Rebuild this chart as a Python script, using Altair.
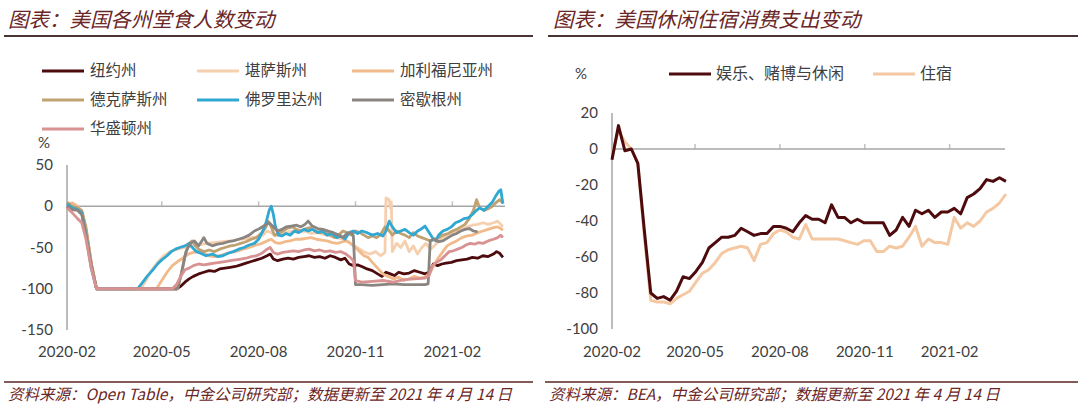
import altair as alt
import pandas as pd

START = "2020-02-01"

# ---------------- Left panel: seated diners by state (day offset from 2020-02-01, % change)
left_names = ["纽约州", "堪萨斯州", "加利福尼亚州", "德克萨斯州", "佛罗里达州", "密歇根州", "华盛顿州"]
left_colors = ["#4E0B0E", "#F6CFAE", "#F2B98A", "#BFA172", "#2FA8D2", "#8A8580", "#D99292"]

new_york = [(0,0),(5,-2),(10,-3),(14,-8),(18,-30),(23,-70),(28,-100),(104,-100),(108,-97),(112,-92),(116,-88),(120,-85),(125,-82),(130,-80),(135,-78),(140,-79),(145,-76),(150,-75),(155,-74),(160,-73),(165,-71),(170,-69),(175,-67),(180,-65),(185,-63),(190,-60),(193,-58),(196,-64),(200,-66),(205,-64),(210,-63),(215,-64),(220,-62),(225,-61),(230,-60),(235,-62),(240,-61),(245,-63),(250,-60),(255,-62),(260,-65),(264,-63),(268,-70),(272,-72),(276,-71),(280,-73),(285,-76),(290,-78),(295,-82),(299,-85),(303,-80),(307,-82),(311,-84),(315,-80),(320,-82),(325,-81),(330,-78),(335,-80),(340,-82),(344,-80),(348,-70),(352,-72),(356,-70),(360,-69),(365,-68),(370,-66),(375,-65),(380,-64),(385,-62),(390,-63),(395,-60),(400,-61),(405,-58),(408,-55),(411,-57),(414,-62)]
kansas = [(0,3),(5,2),(10,-2),(14,-6),(18,-28),(23,-68),(28,-100),(70,-100),(75,-90),(80,-78),(86,-68),(92,-60),(98,-55),(105,-52),(112,-50),(118,-48),(125,-47),(132,-45),(140,-44),(148,-43),(156,-42),(164,-40),(172,-39),(180,-37),(186,-35),(190,-30),(194,-32),(198,-36),(203,-34),(208,-32),(214,-30),(220,-31),(226,-30),(232,-33),(238,-32),(244,-34),(250,-36),(256,-38),(262,-40),(268,-44),(273,-48),(278,-52),(283,-56),(288,-58),(293,-55),(298,-60),(302,-56),(303,10),(306,8),(307,-2),(308,5),(309,-55),(313,-45),(317,-50),(321,-42),(325,-55),(329,-48),(333,-58),(337,-50),(341,-45),(345,-52),(349,-48),(353,-42),(357,-38),(361,-35),(365,-32),(370,-30),(375,-28),(380,-25),(385,-23),(390,-22),(395,-20),(400,-22),(405,-20),(409,-18),(412,-22),(414,-25)]
california = [(0,2),(5,4),(10,0),(14,-6),(18,-30),(23,-70),(28,-100),(85,-100),(90,-90),(95,-80),(100,-72),(105,-67),(110,-63),(115,-58),(120,-56),(125,-55),(130,-57),(135,-60),(140,-61),(145,-60),(150,-58),(155,-56),(160,-55),(165,-53),(170,-51),(175,-49),(180,-47),(185,-45),(190,-42),(194,-40),(198,-44),(202,-45),(207,-43),(212,-42),(217,-40),(222,-40),(227,-39),(232,-38),(237,-40),(242,-41),(247,-42),(252,-44),(257,-45),(262,-43),(266,-42),(270,-46),(274,-50),(278,-55),(282,-60),(286,-62),(290,-68),(295,-75),(300,-82),(305,-85),(310,-88),(315,-86),(320,-90),(325,-88),(330,-85),(335,-87),(340,-86),(345,-80),(349,-70),(353,-62),(357,-55),(361,-48),(365,-45),(370,-42),(375,-38),(380,-36),(385,-35),(390,-32),(395,-30),(400,-28),(405,-26),(409,-25),(412,-27),(414,-29)]
texas = [(0,5),(5,0),(10,-2),(14,-5),(18,-25),(23,-68),(28,-100),(105,-100),(108,-85),(112,-60),(116,-45),(119,-42),(122,-48),(125,-52),(130,-55),(135,-53),(140,-55),(145,-52),(150,-50),(155,-48),(160,-47),(165,-45),(170,-43),(175,-40),(180,-38),(185,-32),(189,-25),(191,-18),(194,-25),(197,-35),(201,-33),(205,-30),(209,-27),(214,-25),(218,-28),(222,-30),(227,-27),(231,-26),(236,-30),(241,-32),(246,-30),(250,-35),(254,-38),(258,-35),(262,-30),(266,-32),(270,-35),(274,-30),(278,-32),(282,-35),(286,-38),(290,-36),(294,-38),(298,-34),(302,-25),(305,-28),(309,-35),(313,-30),(317,-33),(321,-35),(325,-38),(329,-32),(333,-36),(337,-38),(341,-40),(345,-42),(349,-40),(353,-38),(357,-35),(362,-33),(366,-30),(370,-28),(374,-25),(378,-22),(382,-15),(386,-5),(389,8),(392,-2),(396,-5),(400,-3),(404,0),(408,5),(411,8),(414,4)]
florida = [(0,3),(5,-2),(10,-4),(14,-8),(18,-35),(23,-75),(28,-100),(67,-100),(72,-92),(76,-85),(81,-78),(86,-70),(90,-65),(95,-60),(99,-55),(103,-52),(107,-50),(112,-48),(116,-45),(119,-50),(123,-55),(127,-57),(132,-60),(138,-58),(143,-61),(148,-60),(153,-57),(158,-55),(163,-52),(168,-50),(173,-47),(178,-45),(182,-40),(186,-30),(189,-20),(192,-5),(194,0),(196,-10),(198,-25),(201,-35),(204,-36),(208,-33),(212,-35),(216,-30),(220,-32),(225,-28),(229,-30),(233,-28),(238,-32),(242,-30),(247,-35),(252,-33),(256,-38),(260,-36),(264,-40),(268,-32),(272,-30),(276,-33),(280,-30),(285,-32),(290,-35),(295,-33),(300,-36),(303,-30),(306,-18),(309,-25),(313,-32),(317,-30),(321,-28),(325,-32),(329,-35),(333,-30),(336,-28),(340,-24),(343,-30),(347,-38),(350,-42),(353,-35),(357,-30),(361,-28),(365,-25),(369,-20),(373,-18),(377,-15),(381,-14),(385,-10),(388,-6),(392,-2),(396,-5),(400,0),(404,5),(407,12),(410,18),(412,20),(414,3)]
michigan = [(0,0),(5,-4),(10,-5),(14,-10),(18,-35),(23,-72),(28,-100),(105,-100),(109,-80),(113,-55),(117,-45),(121,-42),(125,-48),(128,-42),(130,-38),(133,-45),(138,-48),(143,-46),(148,-45),(153,-43),(158,-42),(163,-40),(168,-38),(173,-35),(178,-30),(183,-27),(188,-23),(192,-20),(196,-25),(200,-30),(204,-28),(208,-25),(213,-24),(218,-23),(222,-25),(226,-22),(229,-18),(233,-24),(238,-27),(243,-28),(248,-30),(253,-32),(258,-35),(262,-38),(266,-33),(270,-32),(272,-36),(274,-95),(280,-95),(290,-96),(300,-95),(310,-94),(320,-95),(330,-95),(340,-95),(343,-94),(345,-42),(349,-40),(353,-43),(357,-42),(362,-38),(366,-35),(370,-33),(374,-30),(378,-28),(382,-27),(386,-30),(390,-31)]
washington = [(0,-2),(5,-8),(10,-15),(14,-20),(18,-40),(23,-75),(28,-100),(100,-100),(104,-95),(108,-85),(112,-77),(116,-75),(120,-72),(125,-70),(130,-71),(135,-70),(140,-69),(145,-68),(150,-67),(155,-66),(160,-65),(165,-64),(170,-63),(175,-61),(180,-60),(185,-57),(190,-52),(193,-50),(196,-56),(200,-58),(205,-56),(210,-55),(215,-54),(220,-55),(225,-53),(230,-52),(235,-54),(240,-53),(245,-55),(250,-54),(255,-56),(260,-55),(265,-58),(269,-62),(272,-66),(274,-90),(280,-92),(290,-91),(300,-90),(310,-92),(320,-89),(330,-88),(340,-87),(344,-84),(347,-72),(351,-68),(355,-65),(359,-60),(363,-55),(367,-54),(371,-52),(375,-50),(379,-47),(383,-45),(387,-46),(391,-44),(395,-45),(400,-42),(405,-40),(409,-38),(412,-35),(414,-38)]
left_data = [new_york, kansas, california, texas, florida, michigan, washington]

left_y_ticks = [50, 0, -50, -100, -150]
left_y_labels = ["50", "0", "-50", "-100", "-150"]

# ---------------- Right panel: weekly spending (% change)
right_names = ["娱乐、赌博与休闲", "住宿"]
right_colors = ["#4E0B0E", "#F4C8A2"]
leisure = [-6,13,-1,0,-8,-45,-80,-83,-82,-84,-79,-71,-72,-68,-63,-55,-52,-49,-49,-48,-44,-46,-48,-47,-47,-43,-43,-44,-46,-41,-37,-39,-39,-41,-31,-38,-38,-41,-39,-41,-41,-41,-41,-48,-45,-38,-43,-34,-36,-34,-38,-35,-35,-33,-36,-27,-25,-22,-17,-18,-16,-18]
lodging = [-3,10,4,0,-8,-48,-84,-85,-85,-86,-83,-81,-79,-74,-69,-67,-63,-58,-56,-55,-54,-55,-62,-53,-52,-47,-45,-46,-49,-50,-42,-50,-50,-50,-50,-50,-51,-52,-53,-51,-51,-57,-57,-54,-55,-54,-49,-43,-54,-50,-52,-52,-53,-38,-44,-41,-43,-40,-35,-33,-30,-25]
right_y_ticks = [20, 0, -20, -40, -60, -80, -100]
right_y_labels = ["20", "0", "-20", "-40", "-60", "-80", "-100"]

x_tick_dates = ["2020-02-01", "2020-05-01", "2020-08-01", "2020-11-01", "2021-02-01"]
x_tick_labels = ["2020-02", "2020-05", "2020-08", "2020-11", "2021-02"]

LEFT_END = "2021-03-23"
RIGHT_END = "2021-04-02"

# ---------------- styling
CN = "Noto Sans CJK SC"
NUM = "Lato"
AX = "#A6A6A6"
LBL = "#404040"
RED = "#6B2626"
one = pd.DataFrame({"k": [0]})
base0 = pd.Timestamp(START)


def dt(s):
    t = pd.Timestamp(s)
    return alt.DateTime(year=t.year, month=t.month, date=t.day, utc=True)


def panel(xs, ys, series, colors, y_ticks, y_labels, end, x_axis_px, widths):
    axis_df = pd.DataFrame({"d0": [START], "d1": [end], "y0": [min(y_ticks)], "y1": [max(y_ticks)], "z": [0]})
    X = lambda f: alt.X(f, scale=xs, axis=None)
    Y = lambda f: alt.Y(f, scale=ys, axis=None)
    layers = []
    layers.append(alt.Chart(axis_df).mark_rule(color=AX, strokeWidth=1.5).encode(x=X("d0:T"), y=Y("y0:Q"), y2="y1:Q"))
    layers.append(alt.Chart(axis_df).mark_rule(color=AX, strokeWidth=1.5).encode(x=X("d0:T"), x2="d1:T", y=Y("z:Q")))
    tk = pd.DataFrame({"d": x_tick_dates[1:], "z": 0})
    layers.append(alt.Chart(tk).mark_tick(orient="vertical", size=5, thickness=1.5, color=AX, yOffset=-2.5).encode(x=X("d:T"), y=Y("z:Q")))
    xl = pd.DataFrame({"d": x_tick_dates, "t": x_tick_labels})
    layers.append(alt.Chart(xl).mark_text(font=NUM, fontSize=15, color=LBL, baseline="middle", align="center").encode(x=X("d:T"), y=alt.value(352), text="t:N"))
    yl = pd.DataFrame({"v": y_ticks, "t": y_labels})
    layers.append(alt.Chart(yl).mark_text(font=NUM, fontSize=15, color=LBL, baseline="middle", align="right").encode(x=alt.value(x_axis_px - 14), y=Y("v:Q"), text="t:N"))
    for s, col, w in zip(series, colors, widths):
        df = pd.DataFrame(s, columns=["d", "v"])
        layers.append(alt.Chart(df).mark_line(color=col, strokeWidth=w, strokeJoin="round").encode(x=X("d:T"), y=Y("v:Q")))
    return alt.layer(*layers)


# left
xs_left = alt.Scale(type="utc", domain=[dt(START), dt(LEFT_END)], range=[67, 505])
ys_left = alt.Scale(domain=[-150, 50], range=[330, 165])
left_series = [[((base0 + pd.Timedelta(days=d)).strftime("%Y-%m-%d"), v) for d, v in s] for s in left_data]
left = panel(xs_left, ys_left, left_series, left_colors, left_y_ticks, left_y_labels, LEFT_END, 67, [2.8] * 7)

# right
xs_right = alt.Scale(type="utc", domain=[dt(START), dt(RIGHT_END)], range=[612, 1005])
ys_right = alt.Scale(domain=[-100, 20], range=[329, 113])
week_dates = [(base0 + pd.Timedelta(days=7 * k)).strftime("%Y-%m-%d") for k in range(len(leisure))]
right_series = [list(zip(week_dates, lodging)), list(zip(week_dates, leisure))]
right = panel(xs_right, ys_right, right_series, right_colors[::-1], right_y_ticks, right_y_labels, RIGHT_END, 612, [3, 3])

deco = []


def text(t, x, y, size=15, color=LBL, style="normal", font=CN, align="left"):
    return alt.Chart(one).mark_text(text=t, font=font, fontSize=size, color=color, fontStyle=style,
                                    align=align, baseline="middle").encode(x=alt.value(x), y=alt.value(y))


def hline(x1, x2, y, color, w):
    return alt.Chart(one).mark_rule(color=color, strokeWidth=w).encode(x=alt.value(x1), x2=alt.value(x2), y=alt.value(y))


# titles & rules
deco.append(text("图表：美国各州堂食人数变动", 8, 21, size=20.5, color=RED, style="italic"))
deco.append(text("图表：美国休闲住宿消费支出变动", 553, 21, size=20.5, color=RED, style="italic"))
deco.append(hline(4, 533, 36, "#4A3434", 2))
deco.append(hline(548, 1078, 36, "#4A3434", 2))
deco.append(hline(4, 533, 382, "#5A2424", 1.5))
deco.append(hline(545, 1078, 382, "#5A2424", 1.5))
deco.append(text("资料来源：Open Table，中金公司研究部；数据更新至 2021 年 4 月 14 日", 8, 395, size=15.5, color=RED, style="italic"))
deco.append(text("资料来源：BEA，中金公司研究部；数据更新至 2021 年 4 月 14 日", 549, 395, size=15.5, color=RED, style="italic"))

# legends
for i, (n, c) in enumerate(zip(left_names, left_colors)):
    col, row = i % 3, i // 3
    x0 = 42 + col * 155
    y0 = 71 + row * 29
    deco.append(hline(x0, x0 + 42, y0, c, 3))
    deco.append(text(n, x0 + 48, y0, size=15.5))
deco.append(text("%", 38, 143, size=15, font=NUM))
deco.append(text("%", 575, 74, size=15, font=NUM))
for (n, c), x0 in zip(zip(right_names, right_colors), [669, 873]):
    deco.append(hline(x0, x0 + 42, 74, c, 3))
    deco.append(text(n, x0 + 47, 74, size=16))

chart = alt.layer(left, right, *deco).resolve_scale(x="independent", y="independent").properties(
    width=1080, height=413, padding=0, autosize=alt.AutoSizeParams(type="none"), background="white"
).configure_view(stroke=None)

chart.save("out.html", embed_options={"renderer": "svg", "actions": False})
